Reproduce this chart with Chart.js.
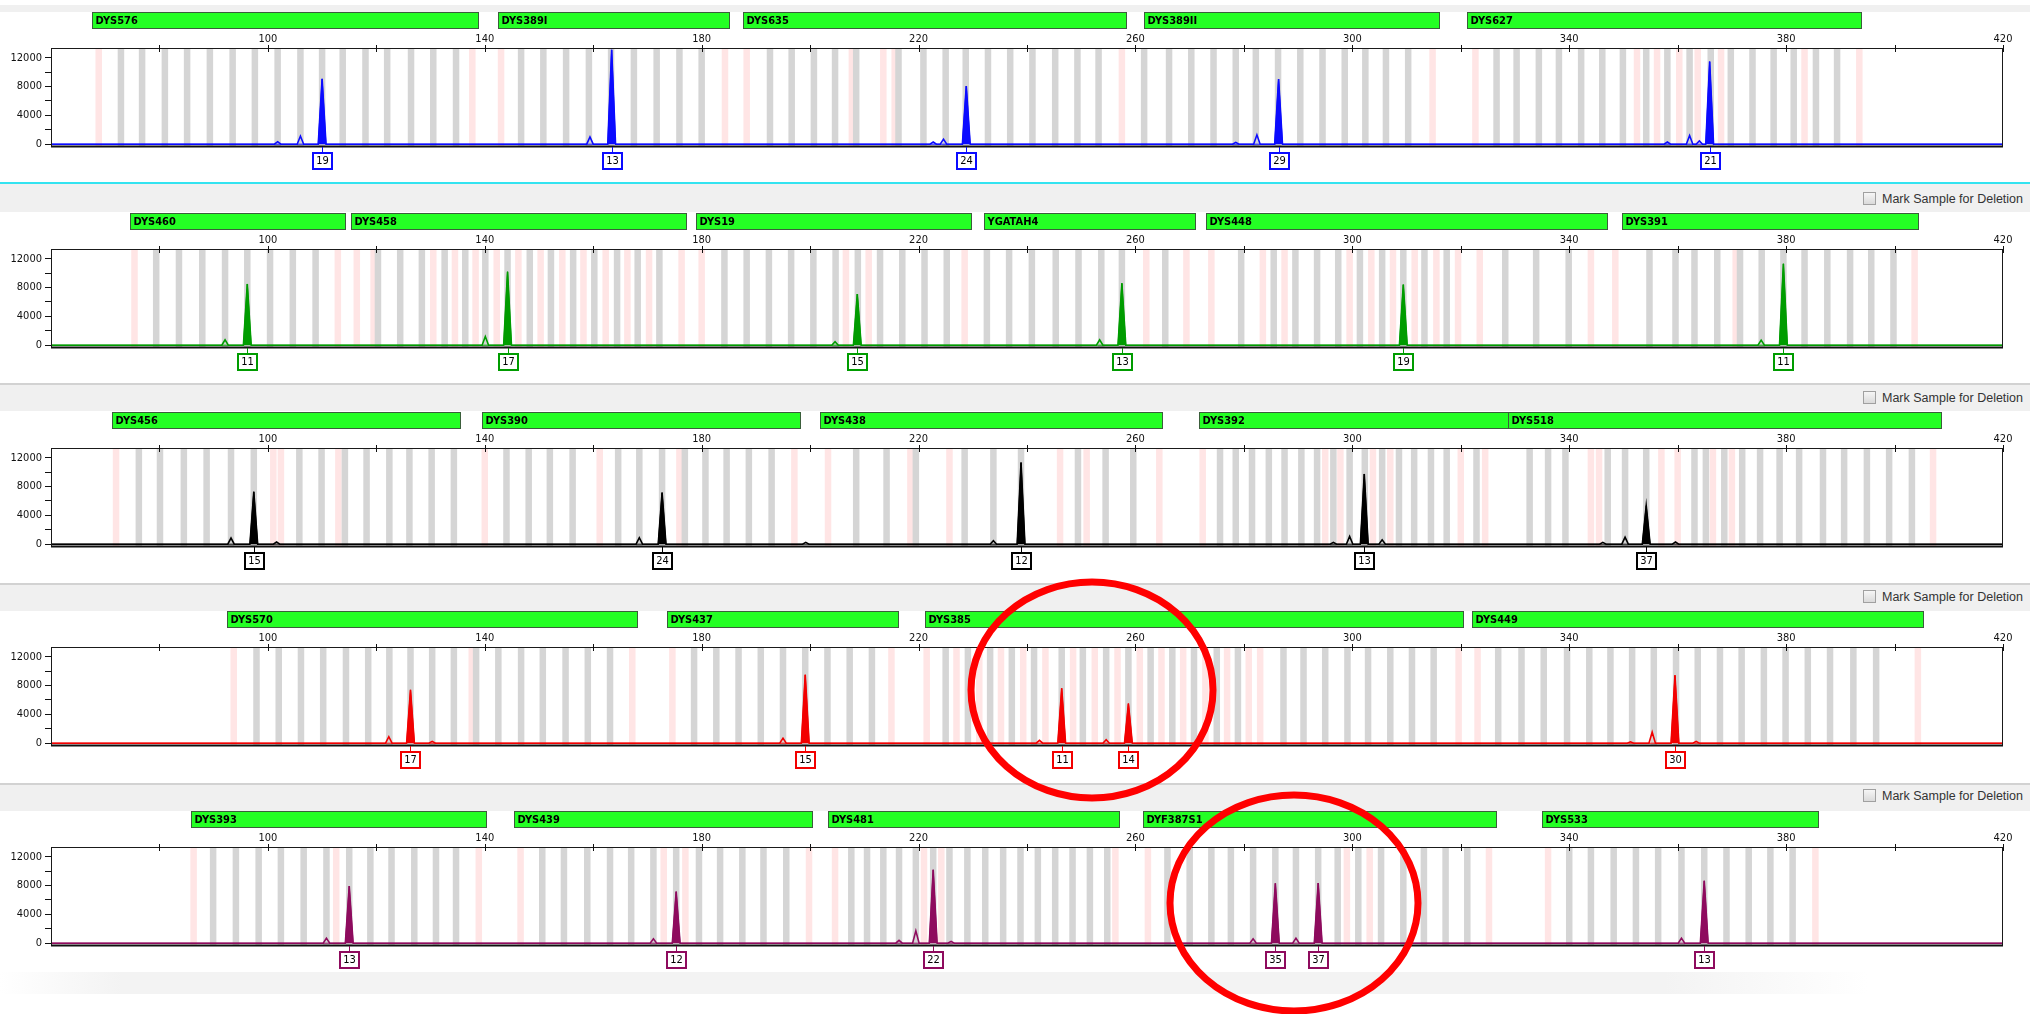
<!DOCTYPE html>
<html>
<head>
<meta charset="utf-8">
<script src="https://cdn.jsdelivr.net/npm/chart.js@4.4.1/dist/chart.umd.min.js"></script>
<style>
html,body{margin:0;padding:0;background:#fff;}
body{width:2030px;height:1014px;position:relative;overflow:hidden;font-family:"Liberation Sans",Arial,sans-serif;}
.band{position:absolute;left:0;width:2030px;background:#f0f0f0;}
.sep{position:absolute;left:0;width:2030px;height:2px;}
.mark{position:absolute;left:1863px;font-size:12.5px;line-height:14px;color:#333;white-space:nowrap;}
.mark i{display:inline-block;width:11px;height:11px;border:1px solid #a0a0a0;background:linear-gradient(#f6f6f6,#dadada);vertical-align:-2px;margin-right:6px;}
canvas.panel{position:absolute;left:0;}
#overlay{position:absolute;left:0;top:0;pointer-events:none;}
.foot{position:absolute;left:0;top:972px;width:2030px;height:22px;background:linear-gradient(to right,#fff 0%,#f3f3f3 6%,#f3f3f3 82%,#fff 92%);}
</style>
</head>
<body>
<div class="foot"></div>
<canvas id="overlay" width="2030" height="1014"></canvas>
<script>
// ---- axes ----
const xTickValues = [80,100,120,140,160,180,200,220,240,260,280,300,320,340,360,380,400,420];
const xTickLabels = ['','100','','140','','180','','220','','260','','300','','340','','380','','420'];
const yTickValues = [0,2000,4000,6000,8000,10000,12000];
const yTickLabels = ['0','','4000','','8000','','12000'];

// ---- dye 1 (blue) ----
const p1Markers = ['DYS576','DYS389I','DYS635','DYS389II','DYS627'];
const p1MarkerStart = [67.5,142.4,187.6,261.6,321.2];
const p1MarkerEnd = [138.8,185.0,258.3,315.9,393.9];
const p1PeakSize = [101.8,106.0,110.0,159.4,163.4,222.7,224.6,228.8,278.5,282.4,286.4,358.1,362.2,364.0,365.9];
const p1PeakHeight = [350,1130,9060,1000,13100,300,700,8060,250,1300,9030,300,1200,450,11460];
const p1PeakAllele = ['','','19','','13','','','24','','','29','','','','21'];
const p1Bins = [72.9,76.8,81.0,85.1,89.3,93.5,97.6,101.8,106.0,110.0,113.8,118.0,122.0,126.4,130.5,134.7,146.7,150.8,155.0,159.2,163.3,167.5,171.7,175.9,180.0,192.6,196.6,200.7,204.6,208.5,216.3,220.9,225.0,228.7,232.8,236.9,241.0,245.2,249.3,253.2,261.6,266.2,270.3,274.4,278.5,282.2,286.3,290.4,294.5,298.6,302.4,306.2,310.3,326.6,330.3,334.4,338.1,342.2,346.1,349.9,354.2,358.1,362.2,366.1,369.8,373.8,377.7,381.4,385.5,389.4];
const p1VirtualBins = [68.8,137.7,143.0,184.3,188.3,207.7,213.5,215.6,257.5,314.8,322.7,352.5,356.2,360.3,363.7,368.0,383.4,393.5];

// ---- dye 2 (green) ----
const p2Markers = ['DYS460','DYS458','DYS19','YGATAH4','DYS448','DYS391'];
const p2MarkerStart = [74.5,115.4,179.0,232.0,273.0,349.8];
const p2MarkerEnd = [114.2,177.2,229.7,271.0,347.0,404.3];
const p2PeakSize = [92.1,96.2,140.1,144.2,204.6,208.7,253.4,257.5,309.4,375.4,379.5];
const p2PeakHeight = [760,8500,1200,10200,500,7100,760,8600,8400,700,11300];
const p2PeakAllele = ['','11','','17','','15','','13','19','','11'];
const p2Bins = [79.4,83.6,87.9,92.1,96.2,100.4,104.6,108.8,120.3,124.4,128.4,132.6,136.4,140.1,144.2,148.3,152.2,156.3,160.2,164.4,168.2,172.2,184.2,188.3,192.4,196.5,200.6,204.7,208.8,212.9,217.0,221.1,225.2,232.6,236.7,240.9,245.3,249.5,253.7,257.5,265.5,279.5,285.5,289.5,293.5,297.4,301.4,305.5,309.4,313.3,317.4,328.2,333.9,339.9,354.8,359.6,363.1,367.3,371.5,375.5,379.5,383.4,387.6,391.8,395.7,399.8];
const p2VirtualBins = [75.4,112.9,116.4,119.5,130.5,134.5,138.3,142.2,146.2,150.3,154.3,158.2,162.3,166.3,170.3,176.3,180.0,206.6,210.8,228.5,262.0,269.4,274.0,283.5,287.5,299.5,303.5,307.5,311.5,315.5,319.5,323.5,344.0,348.5,370.7,403.7];

// ---- dye 3 (black) ----
const p3Markers = ['DYS456','DYS390','DYS438','DYS392','DYS518'];
const p3MarkerStart = [71.2,139.5,201.8,271.8,328.8];
const p3MarkerEnd = [135.5,198.1,264.9,328.8,408.5];
const p3PeakSize = [93.2,97.4,101.6,168.5,172.7,199.2,233.8,238.9,296.5,299.5,302.2,305.5,346.2,350.3,354.2,359.6];
const p3PeakHeight = [850,7280,300,900,7150,250,500,11330,250,1080,9750,600,250,990,5350,300];
const p3PeakAllele = ['','15','','','24','','','12','','','13','','','','37',''];
const p3Bins = [76.2,80.1,84.5,88.7,93.2,97.4,105.8,109.9,114.2,118.2,122.4,126.1,130.2,134.3,144.0,148.1,152.0,156.2,164.6,168.5,172.7,176.9,180.7,184.6,188.7,192.9,208.5,214.1,219.5,228.5,233.8,238.9,249.4,254.5,259.6,275.6,278.5,281.5,284.6,287.5,290.6,293.5,296.5,299.5,302.3,305.5,308.6,311.4,314.5,317.4,322.9,332.7,336.1,339.3,347.1,350.3,354.2,363.1,365.2,368.6,371.9,375.2,378.8,382.4,386.8,390.7,394.9,399.0,403.2];
const p3VirtualBins = [72.0,101.0,102.4,113.0,140.0,161.2,175.9,197.1,203.3,218.5,225.7,246.1,251.0,264.4,272.4,295.0,297.8,303.8,307.0,320.0,324.5,344.0,345.5,357.0,360.0,366.5,370.0,407.1];

// ---- dye 4 (red) ----
const p4Markers = ['DYS570','DYS437','DYS385','DYS449'];
const p4MarkerStart = [92.4,173.6,221.1,322.0];
const p4MarkerEnd = [168.0,216.3,320.5,405.3];
const p4PeakSize = [122.3,126.3,130.3,195.0,199.1,242.3,246.4,254.6,258.7,351.3,355.3,359.5,363.4];
const p4PeakHeight = [900,7400,250,700,9500,400,7620,500,5500,200,1530,9430,250];
const p4PeakAllele = ['','17','','','15','','11','','14','','','30',''];
const p4Bins = [97.9,102.0,106.1,110.2,114.4,118.5,122.4,126.3,130.3,134.3,138.4,142.5,146.7,150.7,154.9,159.0,163.1,178.6,182.7,186.8,190.9,195.0,199.1,203.2,207.3,211.4,225.0,229.1,233.2,237.2,241.3,246.4,250.3,254.6,258.7,262.8,266.8,270.8,275.0,278.9,287.3,291.0,295.0,299.1,302.9,307.0,311.0,315.0,326.9,331.2,335.3,339.6,343.7,347.6,351.6,355.6,359.7,363.7,367.8,371.8,375.9,379.9,384.0,388.1,392.4,396.6];
const p4VirtualBins = [93.7,137.6,167.2,174.6,215.0,221.5,227.0,231.2,235.2,239.3,243.4,248.5,252.5,256.7,260.8,264.8,268.8,272.9,276.9,280.9,283.0,319.6,323.1,404.3];

// ---- dye 5 (purple) ----
const p5Markers = ['DYS393','DYS439','DYS481','DYF387S1','DYS533'];
const p5MarkerStart = [85.8,145.3,203.3,261.4,335.0];
const p5MarkerEnd = [140.2,200.4,257.0,326.5,385.8];
const p5PeakSize = [110.8,115.0,171.1,175.3,216.4,219.5,222.7,226.0,281.7,285.8,289.6,293.7,360.7,364.9];
const p5PeakHeight = [700,7920,600,7150,400,1720,10190,250,600,8300,700,8350,700,8660];
const p5PeakAllele = ['','13','','12','','','22','','','35','','37','','13'];
const p5Bins = [89.9,94.1,98.3,102.4,106.6,110.8,115.0,118.9,122.8,127.0,131.0,134.7,150.6,154.6,158.9,163.1,167.0,171.1,175.3,179.5,183.4,187.5,191.4,195.6,207.6,210.5,213.5,216.4,219.5,222.7,225.7,229.0,232.3,235.6,238.8,242.0,245.2,248.4,251.6,254.8,265.9,270.0,274.0,277.6,281.7,285.8,289.6,293.7,297.3,301.1,305.3,309.4,313.2,317.2,321.2,340.0,344.0,348.2,352.3,356.4,360.7,364.9,369.0,373.1,377.1,381.2];
const p5VirtualBins = [86.3,112.6,138.9,146.6,173.0,177.0,199.8,204.6,221.0,224.2,256.3,262.3,299.0,303.2,325.2,336.1,385.4];

const dyeColors = ['#0b0bff','#009c00','#000000','#f20000','#8e0b5e'];
const panelPlotTop = [48,249,448,647,847];

const panelData = [
  [p1Markers,p1MarkerStart,p1MarkerEnd,p1PeakSize,p1PeakHeight,p1PeakAllele,p1Bins,p1VirtualBins],
  [p2Markers,p2MarkerStart,p2MarkerEnd,p2PeakSize,p2PeakHeight,p2PeakAllele,p2Bins,p2VirtualBins],
  [p3Markers,p3MarkerStart,p3MarkerEnd,p3PeakSize,p3PeakHeight,p3PeakAllele,p3Bins,p3VirtualBins],
  [p4Markers,p4MarkerStart,p4MarkerEnd,p4PeakSize,p4PeakHeight,p4PeakAllele,p4Bins,p4VirtualBins],
  [p5Markers,p5MarkerStart,p5MarkerEnd,p5PeakSize,p5PeakHeight,p5PeakAllele,p5Bins,p5VirtualBins]
];

const FONT = '"Liberation Sans Narrow","DejaVu Sans Condensed","Liberation Sans",sans-serif';
Chart.defaults.font.family = FONT;
Chart.defaults.font.size = 11;
Chart.defaults.color = '#111';

// header strips between the dye rows
function addDiv(cls, top, height, bg) {
  const d = document.createElement('div');
  d.className = cls;
  d.style.top = top + 'px';
  d.style.height = height + 'px';
  if (bg) d.style.background = bg;
  document.body.insertBefore(d, document.body.firstChild);
  return d;
}
addDiv('band', 5, 7);
addDiv('band', 184, 28);
addDiv('sep', 182, 2, '#33e3f0');
[383, 583, 783].forEach(t => { addDiv('band', t + 2, 26); addDiv('sep', t, 2, '#d2d2d2'); });
[192, 391, 590, 789].forEach(t => {
  const m = document.createElement('div');
  m.className = 'mark';
  m.style.top = t + 'px';
  m.innerHTML = '<i></i>Mark Sample for Deletion';
  document.body.appendChild(m);
});

// peak trace: baseline, then each peak as a sharp spike back to baseline
function tracePoints(sizes, heights, alleles, calledOnly) {
  const pts = [{x: 60, y: 0}];
  sizes.forEach((s, i) => {
    const called = alleles[i] !== '';
    if (calledOnly && !called) return;
    const w = called ? 0.72 : 0.6;
    pts.push({x: s - w, y: 0}, {x: s, y: heights[i]}, {x: s + w, y: 0});
  });
  pts.push({x: 420, y: 0});
  return pts;
}

function makePlugin(idx) {
  const [markers, mStart, mEnd, pSize, pHeight, pAllele, bins, vbins] = panelData[idx];
  const color = dyeColors[idx];
  return {
    id: 'strip' + idx,
    beforeDatasetsDraw(chart) {
      const {ctx, chartArea: a, scales: {x}} = chart;
      ctx.save();
      ctx.beginPath();
      ctx.rect(a.left, a.top, a.right - a.left, a.bottom - a.top);
      ctx.clip();
      const hw = 0.6;
      ctx.fillStyle = '#ffe5e5';
      vbins.forEach(s => {
        const l = x.getPixelForValue(s - hw), r = x.getPixelForValue(s + hw);
        ctx.fillRect(l, a.top, r - l, a.bottom - a.top);
      });
      ctx.fillStyle = '#d5d5d5';
      bins.forEach(s => {
        const l = x.getPixelForValue(s - hw), r = x.getPixelForValue(s + hw);
        ctx.fillRect(l, a.top, r - l, a.bottom - a.top);
      });
      ctx.restore();
    },
    afterDatasetsDraw(chart) {
      const {ctx, chartArea: a, scales: {x}} = chart;
      ctx.save();
      // frame
      ctx.strokeStyle = '#1a1a1a';
      ctx.lineWidth = 1;
      ctx.strokeRect(a.left + 0.5, a.top + 0.5, a.right - a.left - 1, a.bottom - a.top);
      ctx.fillStyle = '#111';
      ctx.fillRect(a.left, a.bottom - 0.5, a.right - a.left, 2);
      // size ticks across the top edge
      ctx.strokeStyle = '#111';
      xTickValues.forEach(v => {
        const px = Math.round(x.getPixelForValue(v)) + 0.5;
        ctx.beginPath();
        ctx.moveTo(px, a.top - 3);
        ctx.lineTo(px, a.top + 4);
        ctx.stroke();
      });
      // marker range bars
      markers.forEach((name, i) => {
        const l = Math.round(x.getPixelForValue(mStart[i])) + 0.5;
        const r = Math.round(x.getPixelForValue(mEnd[i])) + 0.5;
        const t = a.top - 36 + 0.5;
        ctx.fillStyle = '#24ff24';
        ctx.fillRect(l, t, r - l, 16);
        ctx.strokeStyle = '#3b5e3b';
        ctx.lineWidth = 1;
        ctx.strokeRect(l, t, r - l, 16);
        ctx.fillStyle = '#000';
        ctx.font = 'bold 11px ' + FONT;
        ctx.textBaseline = 'middle';
        ctx.textAlign = 'left';
        ctx.fillText(name, l + 3, t + 8.5);
      });
      // allele call boxes
      pSize.forEach((s, i) => {
        if (pAllele[i] === '') return;
        const px = Math.round(x.getPixelForValue(s));
        const top = a.bottom + 7;
        ctx.strokeStyle = color;
        ctx.lineWidth = 1;
        ctx.beginPath();
        ctx.moveTo(px + 0.5, a.bottom + 1);
        ctx.lineTo(px + 0.5, top);
        ctx.stroke();
        ctx.fillStyle = '#fff';
        ctx.fillRect(px - 9, top, 19, 16);
        ctx.lineWidth = 2;
        ctx.strokeRect(px - 9, top, 19, 16);
        ctx.fillStyle = '#000';
        ctx.font = '11px ' + FONT;
        ctx.textAlign = 'center';
        ctx.textBaseline = 'middle';
        ctx.fillText(pAllele[i], px + 0.5, top + 8.5);
      });
      ctx.restore();
    }
  };
}

panelData.forEach((pd, idx) => {
  const [markers, mStart, mEnd, pSize, pHeight, pAllele] = pd;
  const cv = document.createElement('canvas');
  cv.className = 'panel';
  cv.width = 2030;
  cv.height = 170;
  cv.style.top = (panelPlotTop[idx] - 40) + 'px';
  document.body.appendChild(cv);
  const color = dyeColors[idx];
  new Chart(cv.getContext('2d'), {
    type: 'line',
    data: {
      datasets: [
        {
          data: tracePoints(pSize, pHeight, pAllele, true),
          borderColor: color,
          backgroundColor: color,
          borderWidth: 1,
          fill: 'origin',
          pointRadius: 0,
          tension: 0
        },
        {
          data: tracePoints(pSize, pHeight, pAllele, false),
          borderColor: color,
          borderWidth: 1.6,
          fill: false,
          pointRadius: 0,
          tension: 0
        }
      ]
    },
    options: {
      responsive: false,
      animation: false,
      devicePixelRatio: 1,
      events: [],
      layout: {autoPadding: false, padding: {top: 20, left: 0, right: 27, bottom: 32}},
      plugins: {legend: {display: false}, tooltip: {enabled: false}},
      scales: {
        x: {
          type: 'linear',
          position: 'top',
          min: 60,
          max: 420,
          afterFit: s => { s.height = 20; },
          afterBuildTicks: s => { s.ticks = xTickValues.map(v => ({value: v})); },
          grid: {display: false, drawTicks: false},
          border: {display: false},
          ticks: {
            autoSkip: false,
            maxRotation: 0,
            padding: 2,
            color: '#111',
            font: {size: 11},
            callback: (v, i) => xTickLabels[i]
          }
        },
        y: {
          type: 'linear',
          min: -250,
          max: 13350,
          afterFit: s => { s.width = 51; },
          afterBuildTicks: s => { s.ticks = yTickValues.map(v => ({value: v})); },
          grid: {drawOnChartArea: false, drawTicks: true, tickLength: 6, color: '#111'},
          border: {display: false},
          ticks: {
            autoSkip: false,
            padding: 3,
            color: '#111',
            font: {size: 11},
            callback: (v, i) => yTickLabels[i]
          }
        }
      }
    },
    plugins: [makePlugin(idx)]
  });
});

// hand-drawn red rings over the DYS385 and DYF387S1 calls
const ov = document.getElementById('overlay');
document.body.appendChild(ov);
const octx = ov.getContext('2d');
octx.strokeStyle = '#ff0000';
octx.lineWidth = 7;
octx.beginPath();
octx.ellipse(1092, 690, 121, 108, 0, 0, Math.PI * 2);
octx.stroke();
octx.beginPath();
octx.ellipse(1294, 903, 124, 108, 0, 0, Math.PI * 2);
octx.stroke();
</script>
</body>
</html>
